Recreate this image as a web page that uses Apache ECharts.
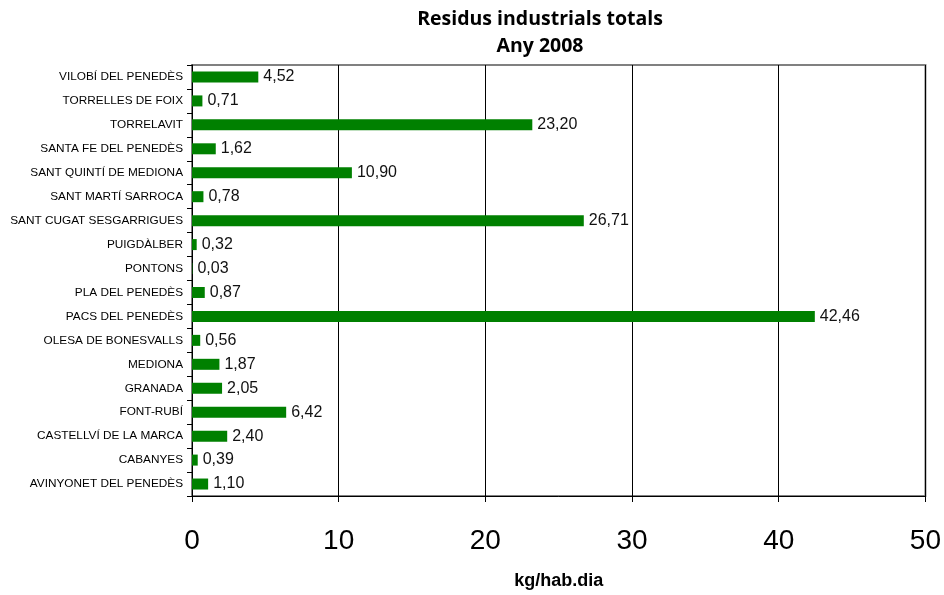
<!DOCTYPE html>
<html>
<head>
<meta charset="utf-8">
<script src="https://cdn.jsdelivr.net/npm/echarts@6/dist/echarts.min.js"></script>
<style>
  html, body { margin: 0; padding: 0; background: #fff; }
  #chart { width: 944px; height: 595px; }
</style>
</head>
<body>
<div id="chart"></div>
<script>
// municipis, de dalt a baix
const municipis = [
  'VILOBÍ DEL PENEDÈS',
  'TORRELLES DE FOIX',
  'TORRELAVIT',
  'SANTA FE DEL PENEDÈS',
  'SANT QUINTÍ DE MEDIONA',
  'SANT MARTÍ SARROCA',
  'SANT CUGAT SESGARRIGUES',
  'PUIGDÀLBER',
  'PONTONS',
  'PLA DEL PENEDÈS',
  'PACS DEL PENEDÈS',
  'OLESA DE BONESVALLS',
  'MEDIONA',
  'GRANADA',
  'FONT-RUBÍ',
  'CASTELLVÍ DE LA MARCA',
  'CABANYES',
  'AVINYONET DEL PENEDÈS'
]
// kg/hab.dia
const residus = [4.52, 0.71, 23.20, 1.62, 10.90, 0.78, 26.71, 0.32, 0.03, 0.87, 42.46, 0.56, 1.87, 2.05, 6.42, 2.40, 0.39, 1.10]
const xTicks = [0, 10, 20, 30, 40, 50]

const myChart = echarts.init(document.getElementById('chart'))

const option = {
  animation: false,
  graphic: [
    {
      type: 'text',
      x: 540,
      y: 6,
      style: {
        text: 'Residus industrials totals\nAny 2008',
        fontFamily: 'Open Sans',
        fontWeight: 'bold',
        fontSize: 19.5,
        lineHeight: 27,
        fill: '#000',
        align: 'center'
      }
    }
  ],
  grid: {
    left: 192,
    right: 16,
    top: 65,
    bottom: 98,
    show: true,
    borderColor: '#808080',
    borderWidth: 2,
    backgroundColor: 'transparent'
  },
  xAxis: {
    type: 'value',
    min: xTicks[0],
    max: xTicks[xTicks.length - 1],
    interval: 10,
    name: 'kg/hab.dia',
    nameLocation: 'middle',
    nameGap: 76,
    nameTextStyle: {
      fontFamily: 'Liberation Sans',
      fontWeight: 'bold',
      fontSize: 18,
      color: '#000'
    },
    axisLine: { show: true, lineStyle: { color: '#000', width: 1 } },
    axisTick: { show: true, length: 6, lineStyle: { color: '#000' } },
    axisLabel: {
      margin: 31,
      fontFamily: 'Liberation Sans',
      fontSize: 28,
      color: '#000'
    },
    splitLine: { show: true, lineStyle: { color: '#000', width: 1 } }
  },
  yAxis: {
    type: 'category',
    inverse: true,
    data: municipis,
    axisLine: { show: true, lineStyle: { color: '#000', width: 1 } },
    axisTick: { show: true, length: 5, lineStyle: { color: '#000' } },
    axisLabel: {
      margin: 9,
      interval: 0,
      fontFamily: 'Liberation Sans',
      fontSize: 11.8,
      color: '#000'
    }
  },
  series: [
    {
      type: 'bar',
      data: residus,
      barWidth: 11,
      itemStyle: { color: '#008000' },
      label: {
        show: true,
        position: 'right',
        distance: 5,
        fontFamily: 'Liberation Sans',
        fontSize: 16,
        color: '#111',
        formatter: (p) => p.value.toFixed(2).replace('.', ',')
      }
    }
  ]
}

myChart.setOption(option)
</script>
</body>
</html>
